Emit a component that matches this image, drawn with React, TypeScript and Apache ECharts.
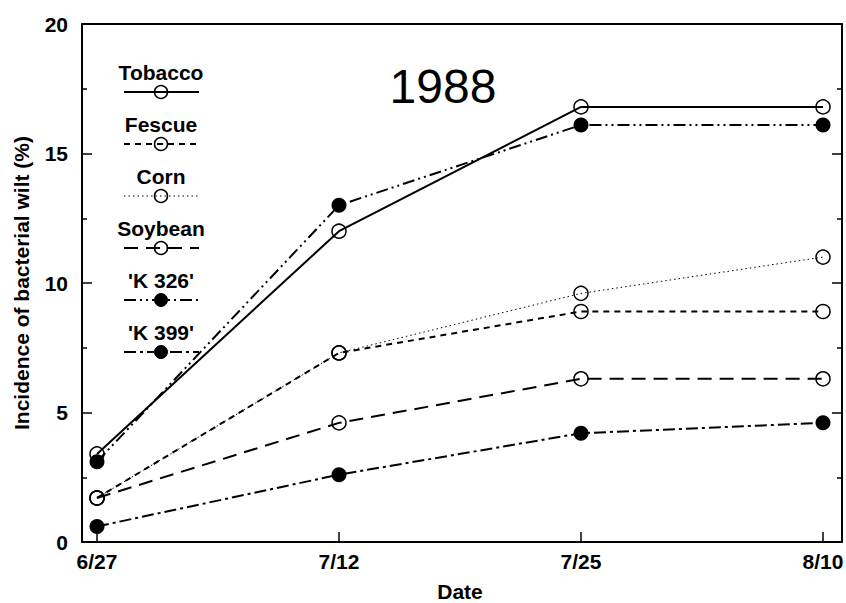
import React, { useEffect, useRef } from "react";
import * as echarts from "echarts";

const dates = ["6/27", "7/12", "7/25", "8/10"];
const seriesNames = ["Tobacco", "Fescue", "Corn", "Soybean", "'K 326'", "'K 399'"];
const tobacco = [3.4, 12.0, 16.8, 16.8];
const fescue = [1.7, 7.3, 8.9, 8.9];
const corn = [1.7, 7.3, 9.6, 11.0];
const soybean = [1.7, 4.6, 6.3, 6.3];
const k326 = [3.1, 13.0, 16.1, 16.1];
const k399 = [0.6, 2.6, 4.2, 4.6];
const yTicks = [0, 5, 10, 15, 20];
const yearLabel = "1988";

const FONT = "Liberation Sans, Arial, Helvetica, sans-serif";

type Sty = { dash: number[] | "solid"; width: number; filled: boolean };
const styles: Sty[] = [
  { dash: "solid", width: 2, filled: false },
  { dash: [6, 5], width: 2, filled: false },
  { dash: [1.5, 3], width: 1, filled: false },
  { dash: [14, 8], width: 2, filled: false },
  { dash: [12, 4, 2, 4, 2, 4], width: 2, filled: true },
  { dash: [12, 4, 3, 4], width: 2, filled: true },
];

export default function App() {
  const ref = useRef<HTMLDivElement>(null);
  useEffect(() => {
    if (!ref.current) return;
    const chart = echarts.init(ref.current, undefined, { renderer: "svg" });
    const values = [tobacco, fescue, corn, soybean, k326, k399];

    const series = values.map((vals, i) => {
      const s = styles[i];
      return {
        name: seriesNames[i],
        type: "line",
        xAxisIndex: 0,
        yAxisIndex: 0,
        data: vals.map((v, j) => [j, v]),
        symbol: "circle",
        symbolSize: s.filled ? 15 : 14,
        showSymbol: true,
        lineStyle: { color: "#000", width: s.width, type: s.dash },
        itemStyle: s.filled
          ? { color: "#000", borderColor: "#000", borderWidth: 0 }
          : { color: "rgba(255,255,255,0)", borderColor: "#000", borderWidth: 1.5 },
        z: 3,
        silent: true,
      };
    });

    const legendX1 = 124;
    const legendX2 = 199;
    const legendCx = 161;
    const legendTop = 72;
    const legendStep = 52;
    const graphics: any[] = [];
    seriesNames.forEach((name, i) => {
      const s = styles[i];
      const ty = legendTop + i * legendStep;
      const ly = ty + 20;
      graphics.push({
        type: "text",
        x: legendCx,
        y: ty,
        style: {
          text: name,
          fill: "#000",
          fontFamily: FONT,
          fontSize: 21,
          fontWeight: "bold",
          align: "center",
          verticalAlign: "middle",
        },
        silent: true,
      });
      graphics.push({
        type: "line",
        shape: { x1: legendX1, y1: ly, x2: legendX2, y2: ly },
        style: {
          stroke: "#000",
          lineWidth: s.width,
          lineDash: s.dash === "solid" ? null : s.dash,
        },
        silent: true,
      });
      graphics.push({
        type: "circle",
        shape: { cx: legendCx, cy: ly, r: 6.5 },
        style: s.filled
          ? { fill: "#000", stroke: "#000", lineWidth: 1 }
          : { fill: "rgba(255,255,255,0)", stroke: "#000", lineWidth: 1.5 },
        silent: true,
      });
    });
    graphics.push({
      type: "text",
      x: 443,
      y: 86,
      style: {
        text: yearLabel,
        fill: "#000",
        fontFamily: FONT,
        fontSize: 48,
        align: "center",
        verticalAlign: "middle",
      },
      silent: true,
    });

    const yCommon = {
      type: "value",
      gridIndex: 0,
      min: yTicks[0],
      max: yTicks[yTicks.length - 1],
      interval: 5,
      axisLine: { show: true, onZero: false, lineStyle: { color: "#000", width: 2 } },
      axisTick: { show: true, inside: true, length: 10, lineStyle: { color: "#000", width: 1.5 } },
      minorTick: { show: true, splitNumber: 2, length: 5, lineStyle: { color: "#000", width: 1.5 } },
      splitLine: { show: false },
    };

    const labelStyle = { color: "#000", fontFamily: FONT, fontSize: 21, fontWeight: "bold" };
    const frameLine = { show: true, onZero: false, lineStyle: { color: "#000", width: 2 } };

    chart.setOption({
      animation: false,
      backgroundColor: "#fff",
      grid: [
        { left: 97, right: 23, top: 24, bottom: 61, containLabel: false, outerBoundsMode: "none" },
        { left: 82, right: 4, top: 24, bottom: 61, containLabel: false, outerBoundsMode: "none" },
      ],
      xAxis: [
        {
          type: "value",
          gridIndex: 0,
          min: 0,
          max: dates.length - 1,
          interval: 1,
          position: "bottom",
          axisLine: { show: false, onZero: false },
          axisTick: {
            show: true,
            inside: true,
            length: 10,
            lineStyle: { color: "#000", width: 1.5 },
          },
          axisLabel: {
            show: true,
            formatter: (v: number) => dates[Math.round(v)] ?? "",
            margin: 9,
            ...labelStyle,
          },
          splitLine: { show: false },
          name: "Date",
          nameLocation: "middle",
          nameGap: 39,
          nameTextStyle: { ...labelStyle },
        },
        {
          type: "value",
          gridIndex: 1,
          min: 0,
          max: 1,
          position: "bottom",
          axisLine: frameLine,
          axisTick: { show: false },
          axisLabel: { show: false },
          splitLine: { show: false },
        },
        {
          type: "value",
          gridIndex: 1,
          min: 0,
          max: 1,
          position: "top",
          axisLine: frameLine,
          axisTick: { show: false },
          axisLabel: { show: false },
          splitLine: { show: false },
        },
      ],
      yAxis: [
        {
          ...yCommon,
          position: "left",
          offset: 15,
          axisLabel: { show: true, margin: 14, ...labelStyle },
          name: "Incidence of bacterial wilt (%)",
          nameLocation: "middle",
          nameGap: 50,
          nameTextStyle: { ...labelStyle },
        },
        {
          ...yCommon,
          position: "right",
          offset: 19,
          axisLabel: { show: false },
        },
        {
          type: "value",
          gridIndex: 1,
          min: 0,
          max: 1,
          show: false,
        },
      ],
      graphic: graphics,
      series,
    });
    return () => chart.dispose();
  }, []);
  return <div ref={ref} style={{ width: 846, height: 603, position: "absolute", left: 0, top: 0 }} />;
}
